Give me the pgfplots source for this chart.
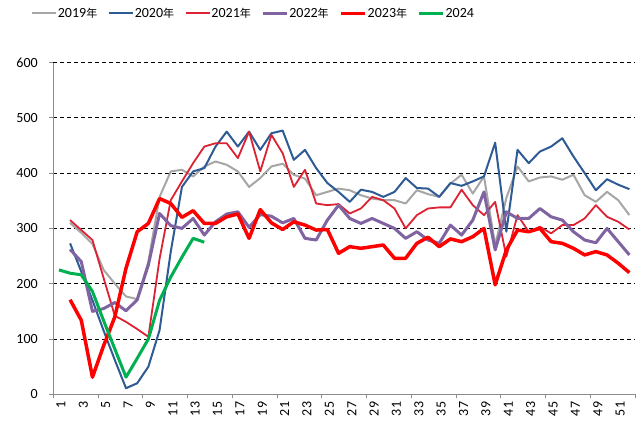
\documentclass[border=0pt]{standalone}
\usepackage{fontspec}
\setmainfont{Carlito}
\newfontfamily\cjk{Noto Sans CJK SC}
\usepackage{pgfplots}
\pgfplotsset{compat=1.18}
\usepackage{pgfplotstable}
\definecolor{cA}{HTML}{A6A6A6}
\definecolor{cB}{HTML}{2F5B94}
\definecolor{cC}{HTML}{DD2233}
\definecolor{cD}{HTML}{8064A2}
\definecolor{cE}{HTML}{FF0000}
\definecolor{cF}{HTML}{00B050}
\definecolor{axgray}{HTML}{8C8C8C}

\pgfplotstableread{
w v
2 310
3 292
4 272
5 225
6 200
7 177
8 172
9 240
10 357
11 403
12 406
13 394
14 412
15 421
16 415
17 403
18 375
19 391
20 412
21 417
22 397
23 390
24 360
25 366
26 372
27 369
28 360
29 354
30 351
31 351
32 345
33 369
34 362
35 357
36 381
37 397
38 363
39 394
40 270
41 355
42 412
43 385
44 392
45 394
46 388
47 397
48 360
49 348
50 366
51 351
52 324
}\tA

\pgfplotstableread{
w v
2 273
3 222
4 170
5 115
6 62
7 11
8 20
9 50
10 116
11 258
12 375
13 403
14 409
15 448
16 475
17 448
18 475
19 442
20 472
21 477
22 424
23 442
24 409
25 382
26 366
27 348
28 370
29 366
30 357
31 366
32 391
33 373
34 372
35 357
36 382
37 377
38 385
39 394
40 455
41 294
42 442
43 418
44 439
45 448
46 463
47 430
48 400
49 369
50 389
51 379
52 371
}\tB

\pgfplotstableread{
w v
2 315
3 297
4 279
5 210
6 142
7 131
8 118
9 104
10 245
11 351
12 385
13 418
14 448
15 454
16 454
17 427
18 475
19 403
20 469
21 436
22 375
23 406
24 345
25 342
26 344
27 327
28 336
29 357
30 351
31 336
32 300
33 324
34 336
35 338
36 338
37 370
38 342
39 324
40 348
41 249
42 324
43 294
44 303
45 291
46 306
47 306
48 318
49 342
50 321
51 312
52 298
}\tC

\pgfplotstableread{
w v
2 262
3 240
4 150
5 155
6 166
7 151
8 171
9 234
10 327
11 305
12 300
13 318
14 288
15 312
16 326
17 330
18 302
19 325
20 322
21 310
22 318
23 282
24 279
25 315
26 342
27 318
28 309
29 318
30 309
31 300
32 282
33 294
34 279
35 273
36 306
37 288
38 315
39 366
40 261
41 330
42 318
43 318
44 336
45 321
46 315
47 294
48 279
49 274
50 300
51 276
52 252
}\tD

\pgfplotstableread{
w v
2 171
3 134
4 31
5 88
6 140
7 228
8 294
9 309
10 354
11 345
12 320
13 332
14 309
15 309
16 321
17 326
18 282
19 334
20 310
21 298
22 312
23 306
24 297
25 298
26 255
27 267
28 264
29 267
30 270
31 246
32 246
33 273
34 284
35 267
36 281
37 276
38 285
39 300
40 198
41 261
42 297
43 294
44 300
45 276
46 273
47 264
48 252
49 258
50 252
51 237
52 220
}\tE

\pgfplotstableread{
w v
1 225
2 219
3 216
4 186
5 133
6 82
7 31
8 65
9 100
10 170
11 212
12 248
13 282
14 275
}\tF

\begin{document}
\begin{tikzpicture}
\useasboundingbox (-53.3pt,-34.7pt) rectangle (587.7pt,394.3pt);
\begin{axis}[
  at={(0,0)}, anchor=south west,
  scale only axis, width=581.7pt, height=331.8pt,
  xmin=0.5, xmax=52.5, ymin=0, ymax=600,
  axis x line=bottom, axis y line=left,
  axis line style={-, draw=axgray, line width=0.8pt},
  xtick={1,3,...,51},
  ytick={0,100,...,600},
  tick align=outside,
  major tick length=4pt,
  xtick style={draw=none},
  ytick style={draw=axgray, line width=0.8pt},
  extra x ticks={0.5,4.5,...,52.5},
  extra x tick labels={},
  extra x tick style={xtick style={draw=axgray, line width=0.8pt}, grid=none},
  ymajorgrids,
  major grid style={black, line width=0.8pt, dash pattern=on 4pt off 3pt},
  /pgf/number format/assume math mode=true,
  tick label style={font=\fontsize{14}{14}\selectfont, black},
  xticklabel style={rotate=90, anchor=east, yshift=-2pt},
  yticklabel style={anchor=east, xshift=-8pt},
  every axis plot/.append style={line join=round, mark=none},
  legend columns=6,
  legend style={draw=none, fill=none, at={(0,1)}, anchor=west,
    xshift=-22.6pt, yshift=49.2pt, inner sep=0pt,
    nodes={inner sep=1pt, anchor=west},
    font=\fontsize{14}{14}\selectfont,
    /tikz/every even column/.append style={column sep=9.5pt}},
  legend image code/.code={\draw[#1] (0pt,0pt) -- (24pt,0pt);},
]
\addplot[cA, line width=2pt] table[x=w,y=v]{\tA};
\addlegendentry{2019{\cjk\fontsize{11}{11}\selectfont 年}}
\addplot[cB, line width=2pt] table[x=w,y=v]{\tB};
\addlegendentry{2020{\cjk\fontsize{11}{11}\selectfont 年}}
\addplot[draw=cC, color=cC, line width=1.8pt] table[x=w,y=v]{\tC};
\addlegendentry{2021{\cjk\fontsize{11}{11}\selectfont 年}}
\addplot[cD, line width=3pt] table[x=w,y=v]{\tD};
\addlegendentry{2022{\cjk\fontsize{11}{11}\selectfont 年}}
\addplot[cE, line width=3.5pt] table[x=w,y=v]{\tE};
\addlegendentry{2023{\cjk\fontsize{11}{11}\selectfont 年}}
\addplot[cF, line width=3pt] table[x=w,y=v]{\tF};
\addlegendentry{2024}
\end{axis}
\end{tikzpicture}
\end{document}
